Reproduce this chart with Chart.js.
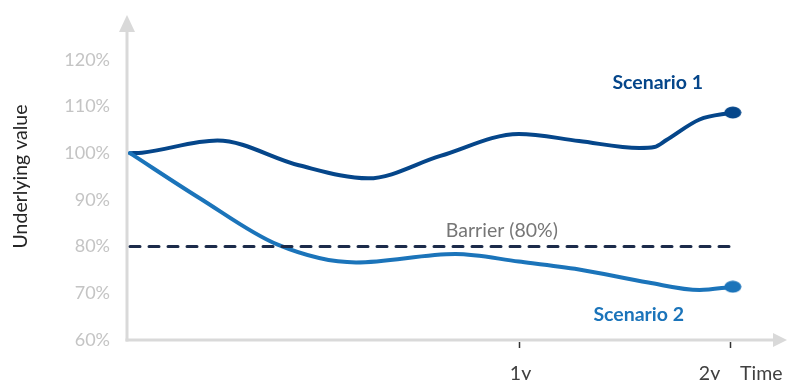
<!DOCTYPE html>
<html>
<head>
<meta charset="utf-8">
<script src="https://cdn.jsdelivr.net/npm/chart.js@4"></script>
<style>
  html, body { margin: 0; padding: 0; background: #fff; overflow: hidden; }
  #wrap { width: 787px; height: 380px; }
</style>
</head>
<body>
<div id="wrap"><canvas id="myChart"></canvas></div>
<script>
// time runs from 0 (start) to 2 (2y end point)
const scenario1Time = [0, 0.04, 0.29, 0.56, 0.79, 1.03, 1.29, 1.49, 1.69, 1.74, 1.78, 1.89, 2];
const scenario1Value = [100, 100.1, 102.7, 97.4, 94.6, 99.4, 104.1, 102.6, 101.1, 101.3, 102.8, 107.2, 108.7];
const scenario2Time = [0, 0.23, 0.49, 0.75, 1.08, 1.29, 1.49, 1.72, 1.89, 2];
const scenario2Value = [100, 90.4, 80.4, 76.6, 78.4, 76.8, 75.1, 72.3, 70.7, 71.4];
const barrierTime = [0, 2.01];
const barrierValue = [80, 80];
const yTickValues = [60, 70, 80, 90, 100, 110, 120];
const xTickValues = [1.29, 1.99];
const xTickLabels = ["1y", "2y"];

const FONT = "Lato, 'Open Sans', sans-serif";
const DARK_BLUE = "#05468a";
const MID_BLUE = "#1b74ba";

function toPoints(xs, ys) {
  return xs.map((x, i) => ({ x: x, y: ys[i] }));
}

// oval end marker
function makeDot(color) {
  const c = document.createElement("canvas");
  c.width = 18;
  c.height = 13;
  const g = c.getContext("2d");
  g.fillStyle = color;
  g.beginPath();
  g.ellipse(9, 6.5, 8.5, 6, 0, 0, Math.PI * 2);
  g.fill();
  return c;
}

function lastOnly(value) {
  return (ctx) => ctx.dataIndex === ctx.dataset.data.length - 1 ? value : 0;
}

const axesPlugin = {
  id: "axes",
  beforeDatasetsDraw(chart) {
    const { ctx, chartArea: a } = chart;
    ctx.save();
    ctx.strokeStyle = "#d9d9d9";
    ctx.fillStyle = "#d9d9d9";
    ctx.lineWidth = 3;

    // vertical axis with arrow
    ctx.beginPath();
    ctx.moveTo(a.left, a.bottom + 1.5);
    ctx.lineTo(a.left, a.top + 14);
    ctx.stroke();
    ctx.beginPath();
    ctx.moveTo(a.left - 8, a.top + 19);
    ctx.lineTo(a.left, a.top + 2);
    ctx.lineTo(a.left + 8, a.top + 19);
    ctx.closePath();
    ctx.fill();

    // horizontal axis with arrow
    ctx.beginPath();
    ctx.moveTo(a.left - 1.5, a.bottom);
    ctx.lineTo(a.right - 12, a.bottom);
    ctx.stroke();
    ctx.beginPath();
    ctx.moveTo(a.right - 14, a.bottom - 7);
    ctx.lineTo(a.right, a.bottom);
    ctx.lineTo(a.right - 14, a.bottom + 7);
    ctx.closePath();
    ctx.fill();
    ctx.restore();
  },
  afterDatasetsDraw(chart) {
    const { ctx, chartArea: a, scales: { x, y } } = chart;
    ctx.save();

    // x ticks and labels
    const labelShift = [1, -21];
    ctx.strokeStyle = "#333";
    ctx.lineWidth = 1.5;
    ctx.fillStyle = "#404040";
    ctx.font = "19.5px " + FONT;
    ctx.textAlign = "center";
    ctx.textBaseline = "alphabetic";
    xTickValues.forEach((v, i) => {
      const px = Math.round(x.getPixelForValue(v)) + 0.5;
      ctx.beginPath();
      ctx.moveTo(px, a.bottom + 2);
      ctx.lineTo(px, a.bottom + 8);
      ctx.stroke();
      ctx.fillText(xTickLabels[i], px + labelShift[i], a.bottom + 40);
    });
    ctx.textAlign = "left";
    ctx.fillText("Time", 740, a.bottom + 40);

    // barrier label
    ctx.fillStyle = "#767676";
    ctx.textAlign = "center";
    ctx.textBaseline = "middle";
    ctx.fillText("Barrier (80%)", x.getPixelForValue(1.234), y.getPixelForValue(83.5));

    // scenario labels
    ctx.font = "bold 19.5px " + FONT;
    ctx.fillStyle = DARK_BLUE;
    ctx.fillText("Scenario 1", x.getPixelForValue(1.751), y.getPixelForValue(115));
    ctx.fillStyle = MID_BLUE;
    ctx.fillText("Scenario 2", x.getPixelForValue(1.688), y.getPixelForValue(65.4));
    ctx.restore();
  }
};

const ctx = document.getElementById("myChart").getContext("2d");

new Chart(ctx, {
  type: "line",
  data: {
    datasets: [
      {
        label: "Barrier",
        data: toPoints(barrierTime, barrierValue),
        borderColor: "#1c2b4a",
        borderWidth: 3,
        borderDash: [10, 9],
        pointRadius: 0,
        fill: false
      },
      {
        label: "Scenario 2",
        data: toPoints(scenario2Time, scenario2Value),
        borderColor: MID_BLUE,
        borderWidth: 4,
        cubicInterpolationMode: "monotone",
        pointStyle: makeDot(MID_BLUE),
        pointRadius: lastOnly(8),
        fill: false
      },
      {
        label: "Scenario 1",
        data: toPoints(scenario1Time, scenario1Value),
        borderColor: DARK_BLUE,
        borderWidth: 4,
        cubicInterpolationMode: "monotone",
        pointStyle: makeDot(DARK_BLUE),
        pointRadius: lastOnly(8),
        fill: false
      }
    ]
  },
  options: {
    responsive: true,
    maintainAspectRatio: false,
    animation: false,
    layout: {
      autoPadding: false,
      padding: { left: 0, right: 0, top: 13, bottom: 40 }
    },
    plugins: {
      legend: { display: false },
      tooltip: { enabled: false }
    },
    elements: {
      line: { borderCapStyle: "round", borderJoinStyle: "round" }
    },
    scales: {
      x: {
        type: "linear",
        display: false,
        min: -0.01,
        max: 2.18
      },
      y: {
        min: 60,
        max: 130,
        afterFit: (s) => {
          s.width = 127;
          s.paddingTop = 0;
          s.paddingBottom = 0;
          s.paddingLeft = 0;
          s.paddingRight = 0;
        },
        afterBuildTicks: (s) => { s.ticks = yTickValues.map((v) => ({ value: v })); },
        grid: { display: false, drawTicks: false },
        border: { display: false },
        ticks: {
          padding: 17,
          color: "#c4c4c4",
          font: { family: FONT, size: 18 },
          callback: (v) => v + "%"
        },
        title: {
          display: true,
          text: "Underlying value",
          color: "#262626",
          font: { family: FONT, size: 19.5 },
          padding: { top: 9, bottom: 0 }
        }
      }
    }
  },
  plugins: [axesPlugin]
});
</script>
</body>
</html>
